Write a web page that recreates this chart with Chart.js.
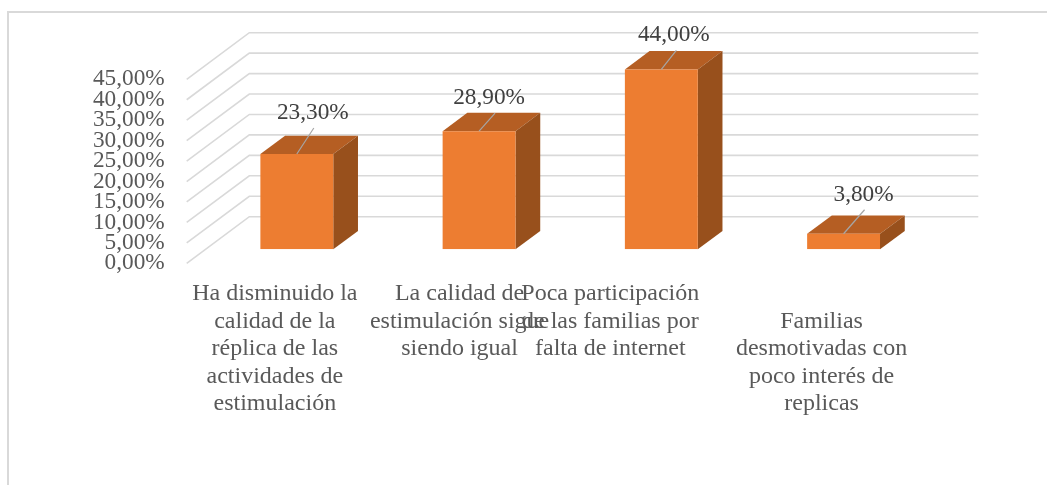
<!DOCTYPE html>
<html lang="es">
<head>
<meta charset="utf-8">
<style>
html,body{margin:0;padding:0;background:#fff;overflow:hidden}
canvas{display:block}
</style>
<script src="https://cdn.jsdelivr.net/npm/chart.js@4"></script>
</head>
<body>
<canvas id="c" width="1047" height="485"></canvas>
<script>
const categories = [
  ["Ha disminuido la","calidad de la","réplica de las","actividades de","estimulación"],
  ["La calidad de","estimulación sigue","siendo igual"],
  ["Poca participación","de las familias por","falta de internet"],
  ["Familias","desmotivadas con","poco interés de","replicas"]
];
const values = [23.3, 28.9, 44.0, 3.8];
const yTicksMax = 45;
const yTicksStep = 5;

const fmt = v => v.toFixed(2).replace('.', ',') + '%';
const FONT = '"Liberation Serif","Times New Roman",serif';

// presentation constants
const wall = {dx: 62.6, dy: 46.6, right: 978.3};
const barShift = {x: 19, y: -14};
const barDepth = {x: 24.7, y: 18.3};
const leaderEnd = [[17,-26],[16,-18],[15,-19],[21,-24]];
const labelShift = [[16,-41],[10,-33],[12.5,-35],[20,-39]];
const catLabelShift = [[-3,0],[-0.5,0],[-32,0],[-3,27.5]];

const threeD = {
  id: 'threeD',
  beforeDraw(chart) {
    const {ctx} = chart;
    ctx.save();
    ctx.fillStyle = '#fff';
    ctx.fillRect(0, 0, chart.width, chart.height);
    ctx.strokeStyle = '#d9d9d9';
    ctx.lineWidth = 2;
    ctx.beginPath();
    ctx.moveTo(8, 485); ctx.lineTo(8, 12); ctx.lineTo(1047, 12);
    ctx.stroke();
    ctx.restore();

    const xs = chart.scales.x;
    const items = xs.getLabelItems();
    if (!items._shifted) {
      items.forEach((it, i) => {
        it.options.translation = [
          it.options.translation[0] + catLabelShift[i][0],
          it.options.translation[1] + catLabelShift[i][1]
        ];
      });
      items._shifted = true;
    }
  },
  beforeDatasetsDraw(chart) {
    const {ctx, chartArea, scales: {y}} = chart;
    ctx.save();
    ctx.strokeStyle = '#d9d9d9';
    ctx.lineWidth = 1.6;
    y.ticks.forEach(t => {
      const py = y.getPixelForValue(t.value);
      ctx.beginPath();
      ctx.moveTo(chartArea.left, py);
      ctx.lineTo(chartArea.left + wall.dx, py - wall.dy);
      ctx.lineTo(wall.right, py - wall.dy);
      ctx.stroke();
    });
    ctx.restore();

    ctx.save();
    ctx.translate(barShift.x, barShift.y);
    const bars = chart.getDatasetMeta(0).data;
    bars.forEach(b => {
      const L = b.x - b.width / 2, R = b.x + b.width / 2, T = b.y, B = b.base;
      ctx.fillStyle = '#b55e23';
      ctx.beginPath();
      ctx.moveTo(L, T); ctx.lineTo(L + barDepth.x, T - barDepth.y);
      ctx.lineTo(R + barDepth.x, T - barDepth.y); ctx.lineTo(R, T);
      ctx.closePath(); ctx.fill();
      ctx.fillStyle = '#98501c';
      ctx.beginPath();
      ctx.moveTo(R, T); ctx.lineTo(R + barDepth.x, T - barDepth.y);
      ctx.lineTo(R + barDepth.x, B - barDepth.y); ctx.lineTo(R, B);
      ctx.closePath(); ctx.fill();
    });
    // front faces are drawn by Chart.js inside this translated context
  },
  afterDatasetsDraw(chart) {
    const {ctx} = chart;
    ctx.restore();
    ctx.save();
    const bars = chart.getDatasetMeta(0).data;
    ctx.font = '23.3px ' + FONT;
    ctx.textAlign = 'center';
    ctx.textBaseline = 'middle';
    bars.forEach((b, i) => {
      const x = b.x + barShift.x, y = b.y + barShift.y;
      ctx.strokeStyle = '#a6a6a6';
      ctx.lineWidth = 1.2;
      ctx.beginPath();
      ctx.moveTo(x, y);
      ctx.lineTo(x + leaderEnd[i][0], y + leaderEnd[i][1]);
      ctx.stroke();
      ctx.fillStyle = '#404040';
      ctx.fillText(fmt(values[i]), x + labelShift[i][0], y + labelShift[i][1]);
    });
    ctx.restore();
  }
};

new Chart(document.getElementById('c'), {
  type: 'bar',
  data: {
    labels: categories,
    datasets: [{
      data: values,
      backgroundColor: '#ed7d31',
      borderWidth: 0,
      barPercentage: 0.4,
      categoryPercentage: 1
    }]
  },
  options: {
    responsive: false,
    animation: false,
    events: [],
    layout: {padding: {top: 79.3, right: 131.3, left: 0, bottom: 0}},
    plugins: {legend: {display: false}, title: {display: false}, tooltip: {enabled: false}},
    scales: {
      x: {
        grid: {display: false, drawTicks: false},
        border: {display: false},
        afterFit(s) { s.height = 485 - 263.3; },
        ticks: {
          autoSkip: false, maxRotation: 0, minRotation: 0, padding: 17,
          color: '#595959',
          font: {family: FONT, size: 24, lineHeight: 1.146}
        }
      },
      y: {
        min: 0, max: yTicksMax,
        grid: {display: false, drawTicks: false},
        border: {display: false},
        afterFit(s) { s.width = 186.7; },
        ticks: {
          stepSize: yTicksStep, autoSkip: false, padding: 22,
          color: '#595959',
          font: {family: FONT, size: 23.3, lineHeight: 1},
          callback: v => fmt(v)
        }
      }
    }
  },
  plugins: [threeD]
});
</script>
</body>
</html>
